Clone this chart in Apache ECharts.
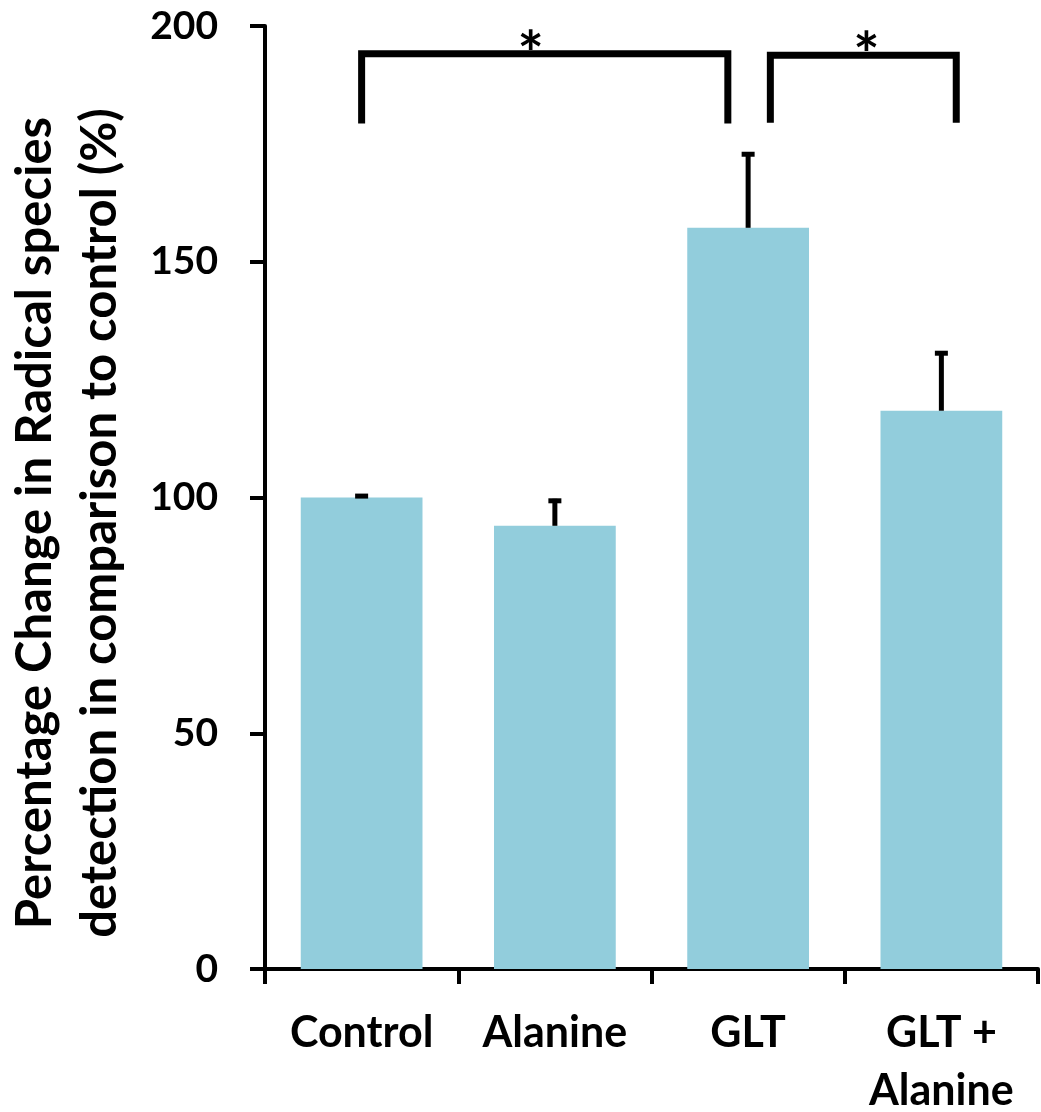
<!DOCTYPE html>
<html>
<head>
<meta charset="utf-8">
<script src="https://cdn.jsdelivr.net/npm/echarts@6/dist/echarts.min.js"></script>
<style>
  html, body { margin: 0; padding: 0; background: #fff; }
  #chart { width: 1041px; height: 1112px; }
</style>
</head>
<body>
<div id="chart"></div>
<script>
// values
const categories = ['Control', 'Alanine', 'GLT', 'GLT +\nAlanine'];
const means = [100, 94, 157.2, 118.4];
const errors = [0.3, 5.3, 15.6, 12.2];
const yTicks = [0, 50, 100, 150, 200];
// significance: [from, to, leg bottom, bracket top]
const comparisons = [[0, 2, 179.3, 194.1], [2, 3, 179.5, 193.8]];
const yTitle = 'Percentage Change in Radical species\ndetection in comparison to control (%)';

const FONT = 'Lato, "Open Sans", sans-serif';
// leg offsets (fraction of a band) and star nudge, per bracket
const legShift = [[0, -0.105], [0.115, 0.077]];
const starShift = [-14, 3];

const chart = echarts.init(document.getElementById('chart'));

const errData = means.map((m, i) => [i, m, m + errors[i]]);

chart.setOption({
  animation: false,
  grid: { left: 265, right: 3, top: 26, bottom: 143, outerBoundsMode: 'none', containLabel: false },
  xAxis: {
    type: 'category',
    data: categories,
    axisLine: { lineStyle: { color: '#000', width: 4 } },
    axisTick: { show: true, length: 15, lineStyle: { color: '#000', width: 4 } },
    axisLabel: {
      interval: 0, margin: 35, color: '#000',
      fontFamily: FONT, fontWeight: 'bold', fontSize: 43, lineHeight: 58
    }
  },
  yAxis: {
    type: 'value',
    min: yTicks[0],
    max: yTicks[yTicks.length - 1],
    interval: yTicks[1] - yTicks[0],
    axisLine: { show: true, lineStyle: { color: '#000', width: 4 } },
    axisTick: { show: true, length: 15, lineStyle: { color: '#000', width: 4 } },
    splitLine: { show: false },
    axisLabel: {
      margin: 47, color: '#000',
      fontFamily: FONT, fontWeight: 'bold', fontSize: 39
    }
  },
  graphic: [{
    type: 'text',
    rotation: Math.PI / 2,
    x: 68, y: 523,
    style: {
      text: yTitle, align: 'center', verticalAlign: 'middle',
      font: 'bold 49px ' + FONT, lineHeight: 65, fill: '#000'
    }
  }],
  series: [
    {
      type: 'bar',
      data: means,
      barWidth: '63%',
      itemStyle: { color: '#92CDDC' }
    },
    {
      type: 'custom',
      data: errData,
      encode: { x: 0, y: [1, 2] },
      z: 3,
      renderItem: function (params, api) {
        const lo = api.coord([api.value(0), api.value(1)]);
        const hi = api.coord([api.value(0), api.value(2)]);
        const cap = 6.5;
        const st = { stroke: '#000', lineWidth: 5 };
        return {
          type: 'group',
          children: [
            { type: 'line', shape: { x1: lo[0], y1: lo[1], x2: hi[0], y2: hi[1] - 2 }, style: st },
            { type: 'line', shape: { x1: hi[0] - cap, y1: hi[1], x2: hi[0] + cap, y2: hi[1] }, style: st }
          ]
        };
      }
    },
    {
      type: 'custom',
      data: comparisons,
      encode: { x: [0, 1], y: [2, 3] },
      z: 4,
      renderItem: function (params, api) {
        const band = api.size([1, 0])[0];
        const sh = legShift[params.dataIndex];
        const a = api.coord([api.value(0), api.value(3)]);
        const b = api.coord([api.value(1), api.value(2)]);
        const x1 = a[0] + sh[0] * band;
        const x2 = b[0] + sh[1] * band;
        const yTop = a[1];
        const yBot = b[1];
        return {
          type: 'group',
          children: [
            {
              type: 'polyline',
              shape: { points: [[x1, yBot], [x1, yTop], [x2, yTop], [x2, yBot]] },
              style: { stroke: '#000', lineWidth: 7, fill: null, lineJoin: 'miter' }
            },
            {
              type: 'text',
              style: {
                text: '*', x: (x1 + x2) / 2 + starShift[params.dataIndex], y: yTop + 2,
                align: 'center', verticalAlign: 'middle',
                font: 'bold 62px ' + FONT, fill: '#000'
              }
            }
          ]
        };
      }
    }
  ]
});
</script>
</body>
</html>
